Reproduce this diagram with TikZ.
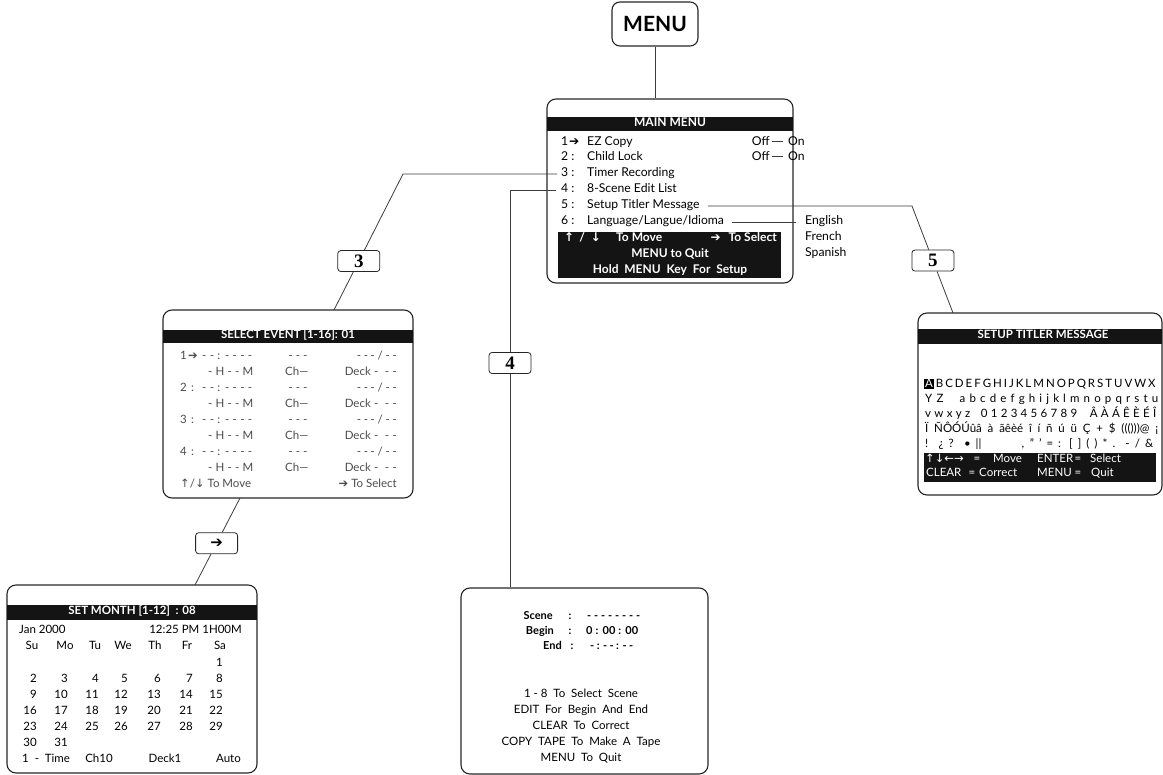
\documentclass[tikz,border=0pt]{standalone}
\usepackage{fontspec}
\setmainfont{Lato}
\newfontfamily\arrowfont{DejaVu Sans}
\newfontfamily\keyfont{Liberation Serif}
\usetikzlibrary{calc}
\definecolor{linegray}{HTML}{3C3C3C}
\newcommand{\rarr}{{\arrowfont →}}
\newcommand{\heavyarr}{{\arrowfont ➔}}
\newcommand{\larr}{{\arrowfont ←}}
\newcommand{\uarr}{{\arrowfont ↑}}
\newcommand{\darr}{{\arrowfont ↓}}
\tikzset{
  screen/.style={draw=black!85, line width=1.1pt, rounded corners=9pt, inner sep=0pt},
  keybox/.style={draw=black!85, line width=0.8pt, rounded corners=3pt, fill=white,
    minimum width=42pt, minimum height=21pt, inner sep=0pt,
    font=\keyfont\bfseries\fontsize{19}{19}\selectfont},
  conn/.style={draw=linegray, line width=0.8pt},
  txt/.style={inner sep=0pt, text height=8.2pt, text depth=2.4pt,
    font=\fontsize{11.5}{13}\selectfont},
  lft/.style={txt, anchor=west},
  rgt/.style={txt, anchor=east},
  mm/.style={font=\fontsize{12.2}{13}\selectfont},
  bartxt/.style={txt, text=white, font=\bfseries\fontsize{11.5}{13}\selectfont},
  mmbar/.style={bartxt, font=\bfseries\fontsize{12}{13}\selectfont},
  bold/.style={font=\bfseries\fontsize{11}{12}\selectfont},
  bar/.style={fill=black!92},
  evt/.style={text=black!70},
}
\begin{document}
\begin{tikzpicture}[x=1pt, y=-1pt]
\useasboundingbox (0,0) rectangle (1163,775);
% Define screens
\node[draw=black!85, line width=1.1pt, rounded corners=8pt, minimum width=86pt,
  minimum height=44pt, font=\bfseries\fontsize{21}{21}\selectfont] (menu) at (655,24) {MENU};
\node[screen, minimum width=246pt, minimum height=184pt] (main) at (670,191) {};
\node[screen, minimum width=250pt, minimum height=188pt] (select) at (288,404) {};
\node[screen, minimum width=250pt, minimum height=188pt] (month) at (132,679) {};
\node[screen, minimum width=247pt, minimum height=186pt] (scene) at (584.5,681) {};
\node[screen, minimum width=244pt, minimum height=182pt] (titler) at (1040,404) {};
%
% Main menu
\fill[bar] (547,117) rectangle (793,131);
\node[mmbar] at (670,124) {MAIN MENU};
\node[lft, mm] (n1) at (561,143) {1};
\node[lft, mm] at (569,143) {\heavyarr};
\node[lft, mm] (it1) at (587,143) {EZ Copy};
\foreach \k/\y/\t in {2/158/{Child Lock}, 3/174/{Timer Recording}, 4/190/{8-Scene Edit List},
    5/206/{Setup Titler Message}, 6/222/{Language/Langue/Idioma}}{
  \node[lft, mm] (n\k) at (561,\y) {\k};
  \node[txt, mm] at (573,\y) {:};
  \node[lft, mm] (it\k) at (587,\y) {\t};
}
\node[rgt, mm] (off1) at (770,143) {Off};
\node[rgt, mm] (off2) at (770,158) {Off};
\node[lft, mm] (on1) at (788,142.5) {On};
\node[lft, mm] (on2) at (788,157.5) {On};
\draw[conn] ([xshift=2pt, yshift=2pt]off1.east) -- ([xshift=-5pt, yshift=2pt]on1.west |- off1.east);
\draw[conn] ([xshift=2pt, yshift=2pt]off2.east) -- ([xshift=-5pt, yshift=2pt]on2.west |- off2.east);
\node[lft, mm] (eng) at (805,222) {English};
\node[lft, mm] (fre) at (805,238) {French};
\node[lft, mm] (spa) at (805,254) {Spanish};
\draw[conn] ([xshift=8pt]it6.east) -- ([xshift=-9pt]eng.west);
\fill[bar] (558,232) rectangle (781,278);
\node[mmbar, anchor=west] at (564,239) {\uarr\hspace{5pt}/\hspace{6pt}\darr};
\node[mmbar, anchor=west] at (616,239) {To Move};
\node[mmbar, anchor=east] at (777,239) {\heavyarr\hspace{8pt}To Select};
\node[mmbar] at (670,255) {MENU to Quit};
\node[mmbar] at (670,271) {Hold\ \ MENU\ \ Key\ \ For\ \ Setup};
%
% Select event
\fill[bar] (163,330) rectangle (413,343);
\node[bartxt] at (288,336) {SELECT EVENT [1-16]: 01};
\foreach \e in {1,2,3,4}{
  \pgfmathsetmacro\ya{325+32*\e}
  \pgfmathsetmacro\yb{341+32*\e}
  \node[lft, evt] at (180,\ya) {\e};
  \node[lft, evt] at (188,\ya) {\ifnum\e=1 \heavyarr\else\ :\fi};
  \node[lft, evt] at (202,\ya) {\makebox[50pt][s]{- - : - - - -}};
  \node[txt, evt] at (298,\ya) {\makebox[19pt][s]{- - -}};
  \node[rgt, evt] at (397,\ya) {\makebox[40pt][s]{- - - / - -}};
  \node[lft, evt] at (208,\yb) {\makebox[45pt][s]{- H - - M}};
  \node[lft, evt] at (285,\yb) {Ch—};
  \node[rgt, evt] at (397,\yb) {\makebox[52pt][s]{Deck - \ - -}};
}
\node[lft, evt] at (180,485) {\uarr/\darr\ To Move};
\node[rgt, evt] at (397,485) {\heavyarr\ To Select};
%
% Set month
\fill[bar] (7,605) rectangle (257,620);
\node[bartxt] at (132,612) {SET MONTH [1-12]\ \ : 08};
\node[lft] at (19,631) {Jan 2000};
\node[rgt] at (242,631) {12:25 PM 1H00M};
\foreach \x/\d in {32/Su,65/Mo,95/Tu,123/We,155/Th,187/Fr,220/Sa}
  \node[txt] at (\x,647) {\d};
\node[rgt] at (223,664) {1};
\foreach \y/\s in {680/2,696/9,712/16,728/23}
  \foreach \x [count=\k from 0] in {37,68,99,128,161,193,223}{
    \pgfmathtruncatemacro\n{\s+\k}
    \node[rgt] at (\x,\y) {\n};
  }
\node[rgt] at (37,744) {30};
\node[rgt] at (68,744) {31};
\node[lft] at (22,760) {1\ \ -\ \ Time};
\node[txt] at (99,760) {Ch10};
\node[txt] at (165,760) {Deck1};
\node[rgt] at (241,760) {Auto};
%
% Scene edit list
\node[rgt, bold] at (553,617) {Scene};
\node[rgt, bold] at (554,632) {Begin};
\node[rgt, bold] at (562,647) {End};
\node[txt, bold] at (570,617) {:};
\node[txt, bold] at (570,632) {:};
\node[txt, bold] at (572,647) {:};
\node[lft, bold] at (587,617) {\makebox[53pt][s]{- - - - - - - -}};
\node[lft, bold] at (586,632) {\makebox[52pt][s]{0 : 00 : 00}};
\node[lft, bold] at (590,647) {\makebox[43pt][s]{- : - - : - -}};
\node[txt] at (581,695) {1 - 8\ \ To\ \ Select\ \ Scene};
\node[txt] at (581,711) {EDIT\ \ For\ \ Begin\ \ And\ \ End};
\node[txt] at (581,727) {CLEAR\ \ To\ \ Correct};
\node[txt] at (581,743) {COPY\ \ TAPE\ \ To\ \ Make\ \ A\ \ Tape};
\node[txt] at (581,759) {MENU\ \ To\ \ Quit};
%
% Setup titler message
\fill[bar] (918,329) rectangle (1162,344);
\node[bartxt] at (1043,336) {SETUP TITLER MESSAGE};
\node[lft] at (924,385) {\makebox[231pt][s]{{\setlength\fboxsep{1pt}\colorbox{black}{\textcolor{white}{A}}} B C D E F G H I J K L M N O P Q R S T U V W X}};
\node[lft] at (925,400) {\makebox[233pt][s]{Y Z \hspace{8pt} a b c d e f g h i j k l m n o p q r s t u}};
\node[lft] at (925,415) {\makebox[231pt][s]{v w x y z \hspace{4pt} 0 1 2 3 4 5 6 7 8 9 \hspace{6pt} Â À Á Ê È É Î}};
\node[lft] at (925,430) {\makebox[233pt][s]{Ï ÑÔÓÚûâ à ãêèé î í ñ ú ü Ç + \$ ((()))@ ¡}};
\node[lft] at (925,445) {\makebox[228pt][s]{! ¿ ? • || \hspace{30pt} , " ' = : [ ] ( ) * . - / \&}};
\fill[bar] (924,453) rectangle (1156,482);
\node[lft, text=white] at (925,460) {\uarr\darr\larr\rarr};
\node[txt, text=white] at (977,460) {=};
\node[lft, text=white] at (993,460) {Move};
\node[lft, text=white] at (1037,460) {ENTER};
\node[txt, text=white] at (1078,460) {=};
\node[lft, text=white] at (1090,460) {Select};
\node[lft, text=white] at (926,474) {CLEAR};
\node[txt, text=white] at (972,474) {=};
\node[lft, text=white] at (979,474) {Correct};
\node[lft, text=white] at (1037,474) {MENU};
\node[txt, text=white] at (1078,474) {=};
\node[lft, text=white] at (1091,474) {Quit};
%
% Connectors
\draw[conn] (menu.south) -- (menu.south |- main.north);
\coordinate (b3) at (403,174);
\coordinate (s3) at (334,310);
\node[keybox] (k3) at ($(b3)!0.64!(s3)$) {3};
\draw[conn] ([xshift=-4pt]n3.west) -- (b3) -- (k3);
\draw[conn] (k3) -- (s3);
\coordinate (b4) at (510,190);
\node[keybox] (k4) at (510,363) {4};
\draw[conn] ([xshift=-5pt]n4.west) -- (b4) -- (k4);
\draw[conn] (k4) -- (k4 |- scene.north);
\coordinate (b5) at (912,206);
\coordinate (s5) at (953,313);
\node[keybox] (k5) at ($(b5)!0.51!(s5)$) {5};
\draw[conn] ([xshift=8pt]it5.east) -- (b5) -- (k5);
\draw[conn] (k5) -- (s5);
\coordinate (s6) at (240,498);
\coordinate (m6) at (195,585);
\node[keybox, font=\arrowfont\fontsize{15}{15}\selectfont] (ka) at ($(s6)!0.52!(m6)$) {➔};
\draw[conn] (s6) -- (ka);
\draw[conn] (ka) -- (m6);
\end{tikzpicture}
\end{document}
